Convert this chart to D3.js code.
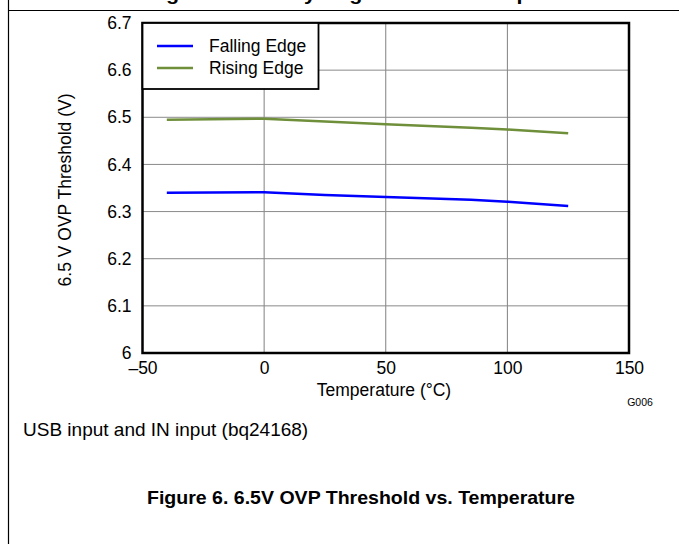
<!DOCTYPE html>
<html lang="en">
<head>
<meta charset="UTF-8">
<title>6.5V OVP Threshold vs. Temperature</title>
<script src="https://cdnjs.cloudflare.com/ajax/libs/d3/7.8.5/d3.min.js"></script>
<style>
  body { margin: 0; background: #fff; font-family: "Liberation Sans", Arial, sans-serif; }
  svg { display: block; }
</style>
</head>
<body>
<svg id="chart" width="679" height="544"></svg>
<script>
// data
const temps = [-40, 0, 25, 50, 85, 100, 125];
const fallingEdge = [6.340, 6.341, 6.335, 6.331, 6.325, 6.321, 6.312];
const risingEdge = [6.495, 6.497, 6.491, 6.485, 6.478, 6.474, 6.466];
const seriesNames = ["Falling Edge", "Rising Edge"];
const seriesColors = ["#0000ff", "#6f8f3b"];
const xTicks = [-50, 0, 50, 100, 150];
const yTicks = [6, 6.1, 6.2, 6.3, 6.4, 6.5, 6.6, 6.7];

const svg = d3.select("#chart");
const pL = 142.5, pR = 629, pT = 23, pB = 353;
const fs = 17.5;

const x = d3.scaleLinear().domain([-50, 150]).range([pL, pR]);
const y = d3.scaleLinear().domain([6, 6.7]).range([pB, pT]);

// page frame lines
svg.append("line").attr("x1", 8.5).attr("x2", 8.5).attr("y1", 0).attr("y2", 544)
  .attr("stroke", "#000").attr("stroke-width", 1.2);
svg.append("line").attr("x1", 8).attr("x2", 679).attr("y1", 10.5).attr("y2", 10.5)
  .attr("stroke", "#000").attr("stroke-width", 1.2);

// title of previous figure, cut at the top of the page
svg.append("text").attr("x", 147).attr("y", 0)
  .attr("font-weight", "bold").attr("font-size", 19)
  .attr("textLength", 455).attr("lengthAdjust", "spacingAndGlyphs")
  .text("Figure 5. Battery Regulation vs. Temperature");

// grid
svg.append("g").selectAll("line").data(xTicks.slice(1, -1)).join("line")
  .attr("x1", d => x(d)).attr("x2", d => x(d)).attr("y1", pT).attr("y2", pB)
  .attr("stroke", "#808080").attr("stroke-width", 1);
svg.append("g").selectAll("line").data(yTicks.slice(1, -1)).join("line")
  .attr("x1", pL).attr("x2", pR).attr("y1", d => y(d)).attr("y2", d => y(d))
  .attr("stroke", "#8a8a8a").attr("stroke-width", 1);

// axes (labels only)
const xAxis = svg.append("g").attr("transform", `translate(0,${pB})`)
  .call(d3.axisBottom(x).tickValues(xTicks).tickSize(0).tickPadding(9)
    .tickFormat(d => d < 0 ? "\u2013" + Math.abs(d) : d));
xAxis.select(".domain").remove();
xAxis.selectAll("text").attr("font-size", fs).attr("fill", "#000")
  .attr("font-family", "Liberation Sans, Arial, sans-serif");

const yAxis = svg.append("g").attr("transform", `translate(${pL},0)`)
  .call(d3.axisLeft(y).tickValues(yTicks).tickSize(0).tickPadding(11)
    .tickFormat(d => d === 6 ? "6" : d3.format(".1f")(d)));
yAxis.select(".domain").remove();
yAxis.selectAll("text").attr("font-size", fs).attr("fill", "#000")
  .attr("font-family", "Liberation Sans, Arial, sans-serif");

// series lines
const line = d3.line().x((d, i) => x(temps[i])).y(d => y(d));
[fallingEdge, risingEdge].forEach((s, k) => {
  svg.append("path").datum(s).attr("d", line)
    .attr("fill", "none").attr("stroke", seriesColors[k]).attr("stroke-width", 2.5);
});

// plot border
svg.append("rect").attr("x", pL).attr("y", pT)
  .attr("width", pR - pL).attr("height", pB - pT)
  .attr("fill", "none").attr("stroke", "#000").attr("stroke-width", 2.5);

// legend
const lg = svg.append("g");
lg.append("rect").attr("x", pL).attr("y", pT).attr("width", 176).attr("height", 66)
  .attr("fill", "#fff").attr("stroke", "#000").attr("stroke-width", 1.8);
seriesNames.forEach((name, k) => {
  const ly = 46 + k * 22;
  lg.append("line").attr("x1", 157).attr("x2", 193).attr("y1", ly).attr("y2", ly)
    .attr("stroke", seriesColors[k]).attr("stroke-width", 2.5);
  lg.append("text").attr("x", 209).attr("y", ly + 6).attr("font-size", fs).text(name);
});

// axis titles
svg.append("text").attr("x", 384).attr("y", 396).attr("text-anchor", "middle")
  .attr("font-size", fs).text("Temperature (\u00B0C)");
svg.append("text").attr("transform", "translate(71,190) rotate(-90)")
  .attr("text-anchor", "middle").attr("font-size", fs).text("6.5 V OVP Threshold (V)");
svg.append("text").attr("x", 640).attr("y", 406).attr("text-anchor", "middle")
  .attr("font-size", 10.5).text("G006");

// notes
svg.append("text").attr("x", 23).attr("y", 436).attr("font-size", 19)
  .text("USB input and IN input (bq24168)");
svg.append("text").attr("x", 147).attr("y", 504).attr("font-size", 19)
  .attr("font-weight", "bold").attr("textLength", 428).attr("lengthAdjust", "spacingAndGlyphs")
  .text("Figure 6. 6.5V OVP Threshold vs. Temperature");
</script>
</body>
</html>
